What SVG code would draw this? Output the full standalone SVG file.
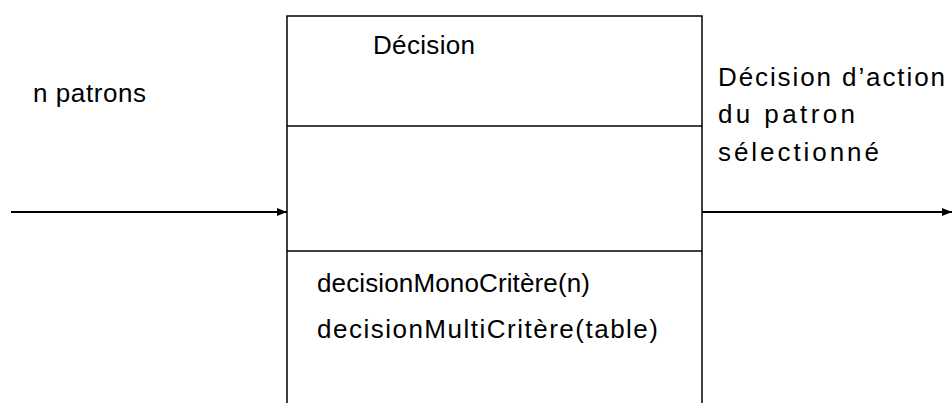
<svg xmlns="http://www.w3.org/2000/svg" width="952" height="403" viewBox="0 0 952 403">
<style>
.t{font-family:"Liberation Sans",Arial,sans-serif;font-size:26px;fill:#000}
.box{fill:#fff;stroke:#000;stroke-width:1.5}
.con{stroke:#000;stroke-width:2;fill:none}
</style>
<defs>
<marker id="ah" markerWidth="10" markerHeight="8" refX="10" refY="4" orient="auto" markerUnits="userSpaceOnUse">
<path d="M0,0 L10,4 L0,8 Z" fill="#000"/>
</marker>
</defs>
<rect width="952" height="403" fill="#fff"/>
<g id="decision">
<path class="box" d="M287,410 V16 H702 V410"/>
<line class="box" x1="287" y1="126" x2="702" y2="126"/>
<line class="box" x1="287" y1="251" x2="702" y2="251"/>
<text class="t" x="373" y="54" textLength="102" lengthAdjust="spacing">Décision</text>
<text class="t" x="317" y="292" textLength="273" lengthAdjust="spacing">decisionMonoCritère(n)</text>
<text class="t" x="317" y="338" textLength="341" lengthAdjust="spacing">decisionMultiCritère(table)</text>
</g>
<g id="label-in">
<text class="t" x="33" y="102" textLength="113" lengthAdjust="spacing">n patrons</text>
</g>
<g id="label-out">
<text class="t" x="718" y="86" textLength="227" lengthAdjust="spacing">Décision d’action</text>
<text class="t" x="718" y="123" textLength="137" lengthAdjust="spacing">du patron</text>
<text class="t" x="718" y="161" textLength="161" lengthAdjust="spacing">sélectionné</text>
</g>
<g id="connectors">
<line class="con" x1="11" y1="212" x2="287" y2="212" marker-end="url(#ah)"/>
<line class="con" x1="702" y1="212" x2="952" y2="212" marker-end="url(#ah)"/>
</g>
</svg>
